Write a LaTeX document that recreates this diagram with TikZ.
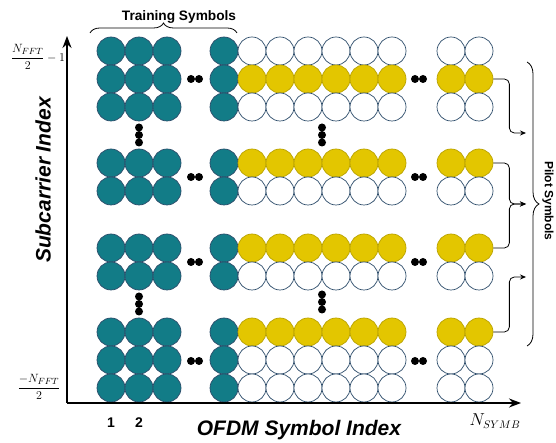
\documentclass[tikz,border=0pt]{standalone}
\usepackage{amsmath}
\usepackage{fontspec}
\setsansfont{Liberation Sans}
\usepackage{tikz}
\usetikzlibrary{arrows.meta,decorations.pathreplacing,positioning}

\definecolor{tealsym}{HTML}{127C87}
\definecolor{pilotyel}{HTML}{E3C600}
\definecolor{pilotedge}{HTML}{B9A200}
\definecolor{symedge}{HTML}{2E4D6B}

\begin{document}
\begin{tikzpicture}[x=1pt,y=1pt,
  sym/.style={circle,draw=symedge,line width=0.7pt,minimum size=28pt,inner sep=0pt},
  train/.style={sym,fill=tealsym},
  pilot/.style={sym,fill=pilotyel,draw=pilotedge},
  data/.style={sym,fill=white},
  blob/.style={circle,fill=black,minimum size=8pt,inner sep=0pt},
  axis/.style={line width=1.6pt,-{Stealth[length=12pt,width=9pt]}},
  feed/.style={line width=0.8pt,rounded corners=5pt,-{Stealth[length=6pt,width=5pt]}},
  lbl/.style={font=\sffamily\bfseries}]
\useasboundingbox (0,0) rectangle (556,443);

% symbol grid
\foreach \x [count=\i] in {111,139,167,224,252,280,308,336,364,392,451,479}
  \foreach \y/\kind [count=\j] in {392/data,364/pilot,336/data,280/pilot,252/data,195/pilot,167/data,111/pilot,83/data,55/data}
  {
    \ifnum\i<5
      \node[train] (s_\j_\i) at (\x,\y) {};
    \else
      \node[\kind] (s_\j_\i) at (\x,\y) {};
    \fi
  }

% dots
\foreach \x/\y [count=\k] in {195/364,195/266,195/181,195/82,419/364,419/266,419/181,419/82}
  {
    \node[blob] (hl_\k) at (\x-4,\y) {};
    \node[blob] (hr_\k) at (\x+4,\y) {};
  }
\foreach \x/\y [count=\k] in {139/308,322/308,139/139,322/141}
  {
    \node[blob] (vt_\k) at (\x,\y+7.5) {};
    \node[blob] (vm_\k) at (\x,\y) {};
    \node[blob] (vb_\k) at (\x,\y-7.5) {};
  }

% axes
\coordinate (o) at (67,40);
\coordinate (ytop) at (67,407);
\coordinate (xend) at (521,40);
\draw[axis] (o) -- (ytop);
\draw[axis] (o) -- (xend);

\node (ytop_lbl) at (38,386) {\fontsize{12.5}{14}\selectfont $\dfrac{N_{FFT}}{2}-1$};
\node (ybot_lbl) at (39,56) {\fontsize{12.5}{14}\selectfont $\dfrac{-N_{FFT}}{2}$};
\node[lbl,font=\sffamily\bfseries\fontsize{14}{16}\selectfont] (n_1) at (111,20) {1};
\node[lbl,font=\sffamily\bfseries\fontsize{14}{16}\selectfont] (n_2) at (139,20) {2};
\node (nsymb) at (495,22) {\fontsize{16}{18}\selectfont $N_{SYMB}$};
\node[font=\sffamily\bfseries\itshape\fontsize{21}{24}\selectfont] (xlabel) at (299,13) {OFDM Symbol Index};
\node[font=\sffamily\bfseries\itshape\fontsize{21}{24}\selectfont,rotate=90] (ylabel) at (43,263) {Subcarrier Index};

% training symbols
\coordinate (tb_l) at (90,410);
\coordinate (tb_r) at (237,410);
\draw[line width=0.8pt,decorate,decoration={brace,amplitude=10pt}] (tb_l) -- (tb_r);
\node[font=\sffamily\bfseries\fontsize{13.7}{16}\selectfont] (train_lbl) at (179,426) {Training Symbols};

% pilot symbols
\coordinate (pb_t) at (527,381);
\coordinate (pb_b) at (527,97);
\draw[line width=0.8pt,decorate,decoration={brace,amplitude=12pt}] (pb_t) -- (pb_b);
\node[font=\sffamily\bfseries\fontsize{12}{14}\selectfont,rotate=-90,inner sep=0pt] (pilot_lbl) at (548,242) {Pilot Symbols};

\coordinate (p_1) at (526,310);
\coordinate (p_2) at (526,239);
\coordinate (p_3) at (526,166);
\draw[feed] (s_2_12.east) -- ++(16,0) |- (p_1);
\draw[feed] (s_4_12.east) -- ++(16,0) |- (p_2);
\draw[feed] (s_6_12.east) -- ++(16,0) |- (p_2);
\draw[feed] (s_8_12.east) -- ++(16,0) |- (p_3);
\end{tikzpicture}
\end{document}
